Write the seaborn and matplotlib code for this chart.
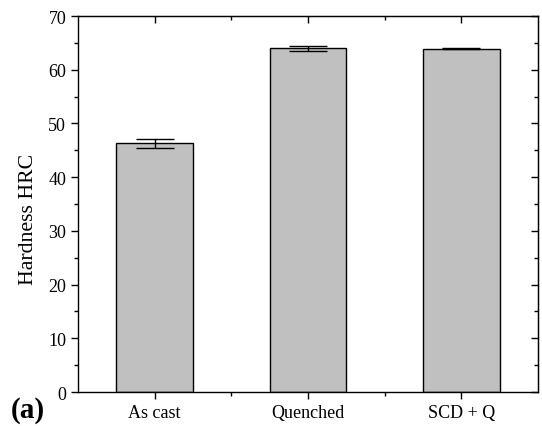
import pandas as pd
import matplotlib.pyplot as plt
import seaborn as sns
from matplotlib.ticker import MultipleLocator, FixedLocator

# データ
conditions = ['As cast', 'Quenched', 'SCD + Q']
hardness = [46.3, 64.0, 63.95]
hardness_err = [0.85, 0.45, 0.15]

df = pd.DataFrame({'condition': conditions, 'hardness': hardness})

sns.set_style('ticks', {'text.color': 'black', 'axes.labelcolor': 'black',
                        'axes.edgecolor': 'black', 'xtick.color': 'black',
                        'ytick.color': 'black'})
plt.rcParams['font.family'] = ['Liberation Serif', 'DejaVu Serif']

fig = plt.figure(figsize=(5.42, 4.27), dpi=100)
ax = fig.add_axes([0.144, 0.0796, 0.8486, 0.8804])

sns.barplot(data=df, x='condition', y='hardness', color='#c0c0c0',
            edgecolor='black', linewidth=1.0, width=0.5, saturation=1,
            errorbar=None, ax=ax)

# 誤差棒
ax.errorbar(range(len(conditions)), hardness, yerr=hardness_err, fmt='none',
            ecolor='black', elinewidth=1.0, capsize=13.5, capthick=1.0)

ax.set_xlim(-0.5, 2.5)
ax.set_ylim(0, 70)
ax.set_xlabel('')
ax.set_ylabel('Hardness HRC', fontsize=15.7)
ax.yaxis.set_label_coords(-0.087, 0.463)

ax.yaxis.set_major_locator(MultipleLocator(10))
ax.yaxis.set_minor_locator(MultipleLocator(5))
ax.xaxis.set_minor_locator(FixedLocator([0.5, 1.5]))

for side in ['left', 'right', 'top', 'bottom']:
    ax.spines[side].set_visible(True)
    ax.spines[side].set_linewidth(1.0)

ax.tick_params(axis='both', which='major', direction='out', length=5, width=1.0,
               labelsize=13)
ax.tick_params(axis='both', which='minor', direction='out', length=3, width=1.0)

# 上・右側の目盛り（内向き）
sec_x = ax.secondary_xaxis('top')
sec_x.set_xticks(range(len(conditions)))
sec_x.xaxis.set_minor_locator(FixedLocator([0.5, 1.5]))
sec_x.tick_params(which='major', direction='in', length=5, width=1.0, labeltop=False)
sec_x.tick_params(which='minor', direction='in', length=3, width=1.0)
sec_y = ax.secondary_yaxis('right')
sec_y.yaxis.set_major_locator(MultipleLocator(10))
sec_y.yaxis.set_minor_locator(MultipleLocator(5))
sec_y.tick_params(which='major', direction='in', length=5, width=1.0, labelright=False)
sec_y.tick_params(which='minor', direction='in', length=3, width=1.0)
ax.tick_params(top=False, right=False, which='both')

fig.text(0.02, 0.022, '(a)', fontsize=21, fontweight='bold')

fig.savefig('out.png', dpi=100)
